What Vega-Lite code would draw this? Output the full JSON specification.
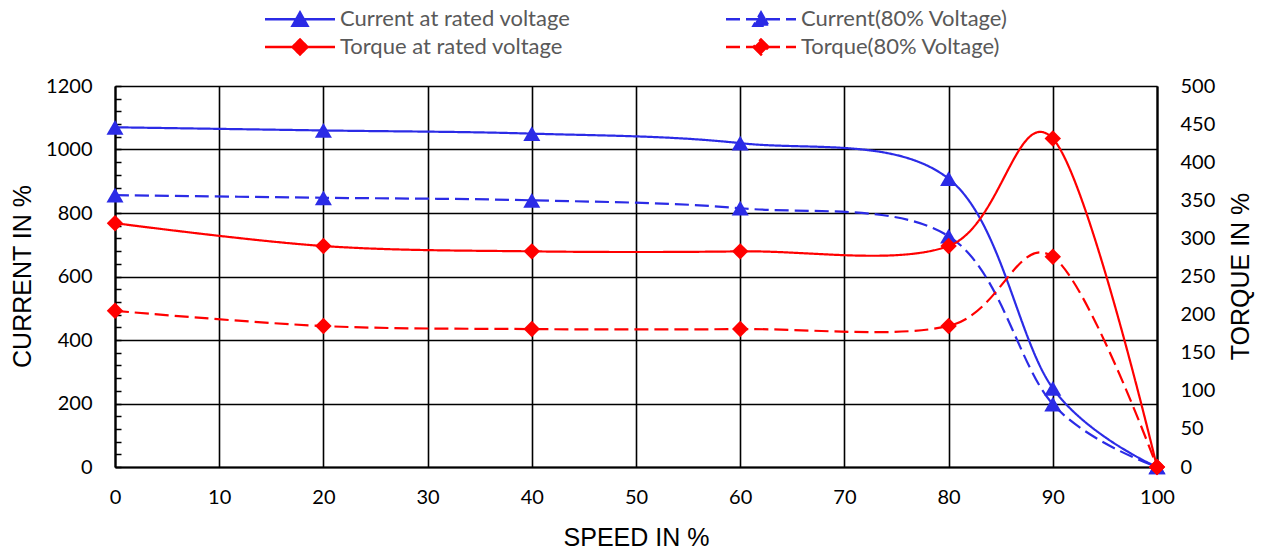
{
  "$schema": "https://vega.github.io/schema/vega-lite/v6.json",
  "width": 1042,
  "height": 381,
  "autosize": {"type": "none"},
  "padding": {"left": 115, "top": 86, "right": 104, "bottom": 85},
  "background": "white",
  "config": {
    "view": {"stroke": null},
    "axis": {"titleFont": "Liberation Sans", "titleFontSize": 25, "titleFontWeight": "normal", "titleColor": "black", "labelFont": "Lato", "labelFontSize": 20, "labelColor": "black", "domainColor": "black", "tickColor": "black", "labelFlush": false, "format": "d"}
  },
  "data": {
    "values": [
      {"speed": 0, "value": 1070, "series": "Current at rated voltage", "kind": "current"},
      {"speed": 20, "value": 1060, "series": "Current at rated voltage", "kind": "current"},
      {"speed": 40, "value": 1050, "series": "Current at rated voltage", "kind": "current"},
      {"speed": 60, "value": 1020, "series": "Current at rated voltage", "kind": "current"},
      {"speed": 80, "value": 908, "series": "Current at rated voltage", "kind": "current"},
      {"speed": 90, "value": 248, "series": "Current at rated voltage", "kind": "current"},
      {"speed": 100, "value": 0, "series": "Current at rated voltage", "kind": "current"},
      {"speed": 0, "value": 856, "series": "Current(80% Voltage)", "kind": "current"},
      {"speed": 20, "value": 848, "series": "Current(80% Voltage)", "kind": "current"},
      {"speed": 40, "value": 840, "series": "Current(80% Voltage)", "kind": "current"},
      {"speed": 60, "value": 815, "series": "Current(80% Voltage)", "kind": "current"},
      {"speed": 80, "value": 727, "series": "Current(80% Voltage)", "kind": "current"},
      {"speed": 90, "value": 198, "series": "Current(80% Voltage)", "kind": "current"},
      {"speed": 100, "value": 0, "series": "Current(80% Voltage)", "kind": "current"},
      {"speed": 0, "value": 320, "series": "Torque at rated voltage", "kind": "torque"},
      {"speed": 20, "value": 290, "series": "Torque at rated voltage", "kind": "torque"},
      {"speed": 40, "value": 283, "series": "Torque at rated voltage", "kind": "torque"},
      {"speed": 60, "value": 283, "series": "Torque at rated voltage", "kind": "torque"},
      {"speed": 80, "value": 290, "series": "Torque at rated voltage", "kind": "torque"},
      {"speed": 90, "value": 431, "series": "Torque at rated voltage", "kind": "torque"},
      {"speed": 100, "value": 0, "series": "Torque at rated voltage", "kind": "torque"},
      {"speed": 0, "value": 205, "series": "Torque(80% Voltage)", "kind": "torque"},
      {"speed": 20, "value": 185, "series": "Torque(80% Voltage)", "kind": "torque"},
      {"speed": 40, "value": 181, "series": "Torque(80% Voltage)", "kind": "torque"},
      {"speed": 60, "value": 181, "series": "Torque(80% Voltage)", "kind": "torque"},
      {"speed": 80, "value": 185, "series": "Torque(80% Voltage)", "kind": "torque"},
      {"speed": 90, "value": 276, "series": "Torque(80% Voltage)", "kind": "torque"},
      {"speed": 100, "value": 0, "series": "Torque(80% Voltage)", "kind": "torque"}
    ]
  },
  "encoding": {
    "x": {
      "field": "speed", "type": "quantitative",
      "scale": {"domain": [0, 100], "nice": false},
      "axis": {
        "title": "SPEED IN %", "values": [0,10,20,30,40,50,60,70,80,90,100],
        "grid": true, "gridColor": "black", "gridWidth": 1.6, "ticks": false,
        "domainWidth": 2.2, "labelPadding": 20, "titleX": 521, "titleY": 70, "titleBaseline": "middle"
      }
    },
    "color": {
      "field": "series", "type": "nominal",
      "scale": {
        "domain": ["Current at rated voltage", "Torque at rated voltage", "Current(80% Voltage)", "Torque(80% Voltage)"],
        "range": ["#2B2BE6", "#FF0000", "#2B2BE6", "#FF0000"]
      },
      "legend": {
        "orient": "none", "legendX": 174, "legendY": -78, "columns": 2, "columnPadding": 150, "rowPadding": 3,
        "title": null, "symbolSize": 196, "symbolStrokeWidth": 2.5, "labelLimit": 500,
        "labelFont": "Lato", "labelFontSize": 22, "labelColor": "#595959", "labelOffset": 29,
        "encode": {
          "symbols": {
            "update": {
              "shape": {"signal": "indexof(datum.value, 'Current') === 0 ? 'M-5,0H5M0,-0.95L1.07,0.95L-1.07,0.95Z' : 'M-5,0H5M0,-1.07L1.07,0L0,1.07L-1.07,0Z'"},
              "fill": {"scale": "color", "field": "value"},
              "stroke": {"scale": "color", "field": "value"},
              "strokeDash": {"signal": "indexof(datum.value, '80%') >= 0 ? [20,5,25,6,14,200] : [400,0]"},
              "opacity": {"value": 1}
            }
          }
        }
      }
    },
    "strokeDash": {
      "field": "series", "type": "nominal",
      "scale": {
        "domain": ["Current at rated voltage", "Torque at rated voltage", "Current(80% Voltage)", "Torque(80% Voltage)"],
        "range": [[1, 0], [1, 0], [14, 6], [14, 6]]
      },
      "legend": null
    }
  },
  "layer": [
    {
      "transform": [{"filter": "datum.kind === 'current'"}],
      "encoding": {
        "y": {
          "field": "value", "type": "quantitative",
          "scale": {"domain": [0, 1200], "nice": false},
          "axis": {
            "orient": "left", "title": "CURRENT IN %",
            "values": [0,40,80,120,160,200,240,280,320,360,400,440,480,520,560,600,640,680,720,760,800,840,880,920,960,1000,1040,1080,1120,1160,1200],
            "labelExpr": "datum.value % 200 === 0 ? datum.label : ''",
            "grid": true, "gridColor": "black", "gridWidth": 1.6,
            "gridOpacity": {"condition": {"test": "datum.value % 200 === 0", "value": 1}, "value": 0},
            "ticks": true, "tickSize": -6, "tickWidth": 1.5,
            "domainWidth": 2.2, "labelPadding": 29,
            "titleX": -93, "titleY": 190, "titleBaseline": "middle", "titleAlign": "center"
          }
        }
      },
      "layer": [
        {"mark": {"type": "line", "interpolate": "cardinal", "strokeWidth": 2.2}},
        {"mark": {"type": "point", "shape": "triangle-up", "filled": true, "size": 290, "opacity": 1}}
      ]
    },
    {
      "transform": [{"filter": "datum.kind === 'torque'"}],
      "encoding": {
        "y": {
          "field": "value", "type": "quantitative",
          "scale": {"domain": [0, 500], "nice": false},
          "axis": {
            "orient": "right", "title": "TORQUE IN %",
            "values": [0,50,100,150,200,250,300,350,400,450,500],
            "grid": false, "ticks": false, "domainWidth": 2.2, "labelPadding": 23,
            "titleX": 83, "titleY": 190, "titleBaseline": "middle", "titleAlign": "center", "titleAngle": -90
          }
        }
      },
      "layer": [
        {"mark": {"type": "line", "interpolate": "cardinal", "strokeWidth": 2.2}},
        {"mark": {"type": "point", "shape": "diamond", "filled": true, "size": 270, "opacity": 1}}
      ]
    }
  ],
  "resolve": {"scale": {"y": "independent"}}
}
